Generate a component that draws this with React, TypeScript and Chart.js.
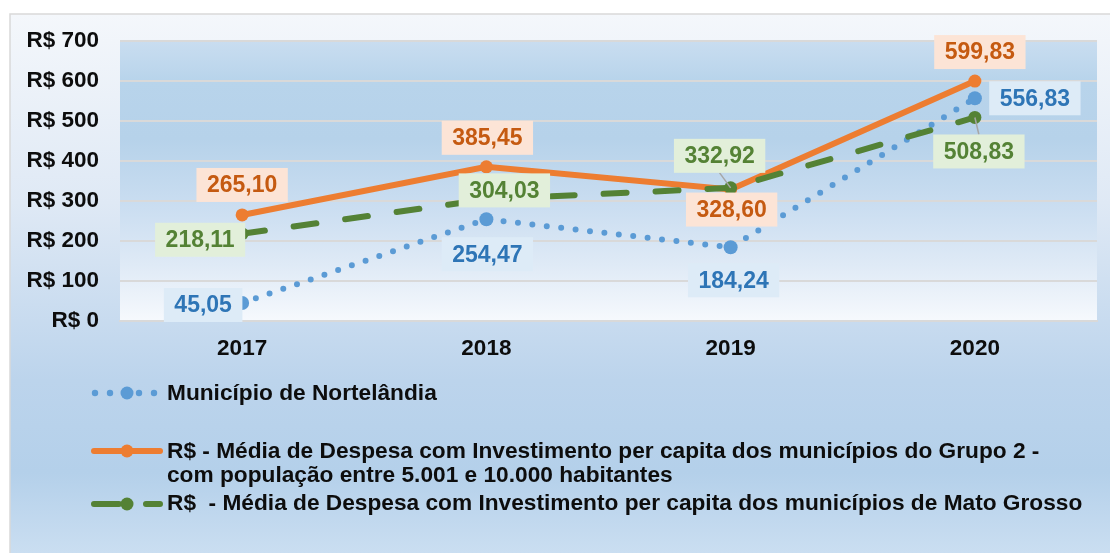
import React, { useEffect, useRef } from "react";
import { Chart, registerables } from "chart.js";

Chart.register(...registerables);

// ---- data ----
const years = ["2017", "2018", "2019", "2020"];
const nortelandia = [45.05, 254.47, 184.24, 556.83];
const grupo2 = [265.1, 385.45, 328.6, 599.83];
const matoGrosso = [218.11, 304.03, 332.92, 508.83];
const yMin = 0;
const yMax = 700;
const yStep = 100;
const legendNortelandia = ["Município de Nortelândia"];
const legendGrupo2 = [
  "R$ - Média de Despesa com Investimento per capita dos municípios do Grupo 2 -",
  "com população entre 5.001 e 10.000 habitantes",
];
const legendMatoGrosso = ["R$  - Média de Despesa com Investimento per capita dos municípios de Mato Grosso"];

// ---- styling ----
const FONT = "'Liberation Sans', Arial, sans-serif";
const BLUE = "#5b9bd5";
const ORANGE = "#ed7d31";
const GREEN = "#548235";

type LabelStyle = {
  text: string;
  box: string;
  offsets: [number, number][];
  leaders: boolean[];
};

const labelStyles: LabelStyle[] = [
  {
    text: "#2e75b6",
    box: "#ddebf7",
    offsets: [[-39, 2], [1, 35], [3, 33], [60, 0]],
    leaders: [false, false, false, false],
  },
  {
    text: "#c55a11",
    box: "#fce4d6",
    offsets: [[0, -30], [1, -29], [1, 20], [5, -29]],
    leaders: [false, false, false, false],
  },
  {
    text: "#548235",
    box: "#e2efda",
    offsets: [[-42, 6], [18, -9], [-11, -32], [4, 34]],
    leaders: [false, false, true, true],
  },
];

const fmt = (v: number) => v.toFixed(2).replace(".", ",");

const backgroundPlugin = {
  id: "panelBackground",
  beforeDraw(chart: any) {
    const { ctx, chartArea, width, height } = chart;
    ctx.save();
    // outer panel
    const x0 = 10, y0 = 14;
    const g = ctx.createLinearGradient(0, y0, 0, height);
    g.addColorStop(0, "#f4f7fb");
    g.addColorStop(0.35, "#dfe9f5");
    g.addColorStop(0.68, "#bcd4ec");
    g.addColorStop(0.85, "#b4d0ea");
    g.addColorStop(1, "#cadef1");
    ctx.fillStyle = g;
    ctx.fillRect(x0, y0, width - x0, height - y0);
    ctx.strokeStyle = "#d9d9d9";
    ctx.lineWidth = 1.5;
    ctx.strokeRect(x0, y0, width - x0 + 5, height - y0 + 5);

    // plot area
    const { left, top, right, bottom } = chartArea;
    const pg = ctx.createLinearGradient(0, top, 0, bottom);
    pg.addColorStop(0, "#c9ddf0");
    pg.addColorStop(0.14, "#b8d4eb");
    pg.addColorStop(0.35, "#b6d2ea");
    pg.addColorStop(0.6, "#cbdef1");
    pg.addColorStop(0.8, "#dfeaf6");
    pg.addColorStop(1, "#f6f9fd");
    ctx.fillStyle = pg;
    ctx.fillRect(left, top, right - left, bottom - top);
    ctx.restore();
  },
};

const dataLabelPlugin = {
  id: "valueLabels",
  afterDatasetsDraw(chart: any) {
    const { ctx } = chart;
    ctx.save();
    ctx.font = `bold 23px ${FONT}`;
    ctx.textAlign = "center";
    ctx.textBaseline = "middle";
    chart.data.datasets.forEach((ds: any, di: number) => {
      const st = labelStyles[di];
      const meta = chart.getDatasetMeta(di);
      meta.data.forEach((pt: any, i: number) => {
        const v = ds.data[i] as number;
        const [dx, dy] = st.offsets[i];
        const cx = pt.x + dx;
        const cy = pt.y + dy;
        const text = fmt(v);
        const w = ctx.measureText(text).width + 21;
        const h = 34;
        if (st.leaders[i]) {
          ctx.strokeStyle = "#a6a6a6";
          ctx.lineWidth = 1.5;
          ctx.beginPath();
          const ey = dy < 0 ? cy + h / 2 : cy - h / 2;
          ctx.moveTo(cx, ey);
          ctx.lineTo(pt.x, pt.y);
          ctx.stroke();
        }
        ctx.fillStyle = st.box;
        ctx.fillRect(cx - w / 2, cy - h / 2, w, h);
        ctx.fillStyle = st.text;
        ctx.fillText(text, cx, cy + 1);
      });
    });
    ctx.restore();
  },
};

const legendPlugin = {
  id: "customLegend",
  afterDraw(chart: any) {
    const { ctx } = chart;
    ctx.save();
    const mx = 127;
    const tx = 167;
    // Município de Nortelândia (dotted)
    ctx.fillStyle = BLUE;
    [95, 110, 139, 154].forEach((x) => {
      ctx.beginPath();
      ctx.arc(x, 393, 3.2, 0, Math.PI * 2);
      ctx.fill();
    });
    ctx.beginPath();
    ctx.arc(mx, 393, 6.5, 0, Math.PI * 2);
    ctx.fill();

    // Grupo 2 (solid)
    ctx.strokeStyle = ORANGE;
    ctx.lineWidth = 6;
    ctx.lineCap = "round";
    ctx.beginPath();
    ctx.moveTo(94, 451);
    ctx.lineTo(160, 451);
    ctx.stroke();
    ctx.fillStyle = ORANGE;
    ctx.beginPath();
    ctx.arc(mx, 451, 6.5, 0, Math.PI * 2);
    ctx.fill();

    // Mato Grosso (dashed)
    ctx.strokeStyle = GREEN;
    ctx.beginPath();
    ctx.moveTo(94, 504);
    ctx.lineTo(119, 504);
    ctx.moveTo(146, 504);
    ctx.lineTo(160, 504);
    ctx.stroke();
    ctx.fillStyle = GREEN;
    ctx.beginPath();
    ctx.arc(mx, 504, 6.5, 0, Math.PI * 2);
    ctx.fill();

    ctx.fillStyle = "#0d0d0d";
    ctx.font = `bold 22.7px ${FONT}`;
    ctx.textAlign = "left";
    ctx.textBaseline = "middle";
    ctx.fillText(legendNortelandia[0], tx, 394);
    ctx.fillText(legendGrupo2[0], tx, 452);
    ctx.fillText(legendGrupo2[1], tx, 476);
    ctx.fillText(legendMatoGrosso[0], tx, 504);
    ctx.restore();
  },
};

export default function App() {
  const canvasRef = useRef<HTMLCanvasElement | null>(null);

  useEffect(() => {
    const canvas = canvasRef.current;
    if (!canvas) return;
    const chart = new Chart(canvas, {
      type: "line",
      data: {
        labels: years,
        datasets: [
          {
            label: legendNortelandia[0],
            data: nortelandia,
            borderColor: BLUE,
            backgroundColor: BLUE,
            borderWidth: 6,
            borderDash: [0, 14.5],
            borderCapStyle: "round",
            pointRadius: 7,
            pointBorderWidth: 0,
            pointBackgroundColor: BLUE,
            tension: 0,
            order: 2,
          },
          {
            label: legendGrupo2.join(" "),
            data: grupo2,
            borderColor: ORANGE,
            backgroundColor: ORANGE,
            borderWidth: 6,
            borderCapStyle: "round",
            pointRadius: 6.5,
            pointBorderWidth: 0,
            pointBackgroundColor: ORANGE,
            tension: 0,
            order: 1,
          },
          {
            label: legendMatoGrosso[0],
            data: matoGrosso,
            borderColor: GREEN,
            backgroundColor: GREEN,
            borderWidth: 6,
            borderDash: [23, 29],
            borderCapStyle: "round",
            pointRadius: 6.5,
            pointBorderWidth: 0,
            pointBackgroundColor: GREEN,
            tension: 0,
            order: 0,
          },
        ],
      },
      options: {
        responsive: false,
        animation: false,
        devicePixelRatio: 1,
        layout: { padding: { left: 0, right: 13, top: 41, bottom: 0 } },
        plugins: {
          legend: { display: false },
          tooltip: { enabled: false },
        },
        scales: {
          x: {
            offset: true,
            grid: { display: false, drawTicks: false },
            border: { display: true, color: "#d9d9d9", width: 2 },
            ticks: {
              color: "#0d0d0d",
              font: { family: FONT, size: 22.5, weight: "bold" },
              padding: 14,
              maxRotation: 0,
            },
            afterFit(scale: any) {
              scale.height = 232;
            },
          },
          y: {
            min: yMin,
            max: yMax,
            ticks: {
              stepSize: yStep,
              color: "#0d0d0d",
              font: { family: FONT, size: 22.5, weight: "bold" },
              padding: 21,
              callback: (v: any) => `R$ ${v}`,
            },
            grid: { color: "#d9d9d9", lineWidth: 2, drawTicks: false },
            border: { display: false },
            afterFit(scale: any) {
              scale.width = 120;
            },
          },
        },
      },
      plugins: [backgroundPlugin, dataLabelPlugin, legendPlugin],
    });
    return () => chart.destroy();
  }, []);

  return (
    <div style={{ position: "absolute", left: 0, top: 0, width: 1110, height: 553 }}>
      <canvas ref={canvasRef} width={1110} height={553} style={{ display: "block" }} />
    </div>
  );
}
